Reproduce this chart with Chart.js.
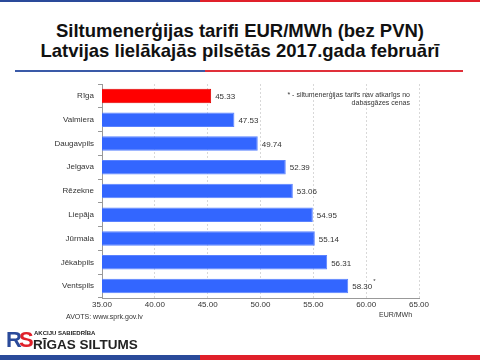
<!DOCTYPE html>
<html>
<head>
<meta charset="utf-8">
<script src="https://cdn.jsdelivr.net/npm/chart.js@4"></script>
<style>
  html, body { margin: 0; padding: 0; background: #fff; }
  #wrap { position: relative; width: 480px; height: 360px; overflow: hidden; font-family: "Liberation Sans", Arial, sans-serif; }
  #c { position: absolute; left: 0; top: 0; }
  .bar2 { position: absolute; height: 2px; }
  .title { position: absolute; left: 0; width: 480px; text-align: center; font-weight: bold; font-size: 18.5px; color: #111; }
  .small { position: absolute; font-size: 7px; color: #333; }
</style>
</head>
<body>
<div id="wrap">
  <div class="bar2" style="left:0;top:0;width:200px;background:#2a4a9a"></div>
  <div class="bar2" style="left:200px;top:0;width:280px;background:#e0202a"></div>
  <div class="title" style="top:20px">Siltumenerģijas tarifi EUR/MWh (bez PVN)</div>
  <div class="title" style="top:40px">Latvijas lielākajās pilsētās 2017.gada februārī</div>
  <div class="bar2" style="left:15px;top:70px;width:190px;background:#3a5aa8"></div>
  <div class="bar2" style="left:205px;top:70px;width:258px;background:#e0303a"></div>
  <canvas id="c" width="480" height="360"></canvas>
  <div class="small" style="left:270px;top:91px;width:140px;text-align:right;line-height:8px;white-space:nowrap">* - siltumenerģijas tarifs nav atkarīgs no<br>dabasgāzes cenas</div>
  <div class="small" style="left:66px;top:313px">AVOTS: www.sprk.gov.lv</div>
  <div class="small" style="left:379px;top:311px">EUR/MWh</div>
  <div style="position:absolute;left:6px;top:329px;font-weight:bold;font-size:22px;line-height:22px;letter-spacing:-3px"><span style="color:#2a4a9a">R</span><span style="color:#e0202a">S</span></div>
  <div style="position:absolute;left:34px;top:330px;font-size:6px;font-weight:bold;color:#222">AKCIJU SABIEDRĪBA</div>
  <div style="position:absolute;left:33px;top:337px;font-size:13.5px;font-weight:bold;color:#222;line-height:15px">RĪGAS SILTUMS</div>
  <div class="bar2" style="left:0;top:355px;height:5px;width:200px;background:#2a4a9a"></div>
  <div class="bar2" style="left:200px;top:355px;height:5px;width:280px;background:#e0202a"></div>
</div>
<script>
// dati no attēla
const pilsetas = ['Rīga', 'Valmiera', 'Daugavpils', 'Jelgava', 'Rēzekne', 'Liepāja', 'Jūrmala', 'Jēkabpils', 'Ventspils'];
const tarifi = [45.33, 47.53, 49.74, 52.39, 53.06, 54.95, 55.14, 56.31, 58.30];
const zvaigznite = [false, false, false, false, false, false, false, false, true];
const asisMin = 35;
const asisMax = 65;
const asisSolis = 5;

const krasas = pilsetas.map(function (p, i) { return i === 0 ? '#ff0000' : '#3366ff'; });
const robezas = pilsetas.map(function (p, i) { return i === 0 ? '#e00000' : '#5a82ff'; });

// vērtību uzraksti pie stabiņiem
const vertibuUzraksti = {
    id: 'vertibuUzraksti',
    afterDatasetsDraw: function (chart) {
        const ctx = chart.ctx;
        const meta = chart.getDatasetMeta(0);
        ctx.save();
        ctx.font = '8px "Liberation Sans", Arial, sans-serif';
        ctx.fillStyle = '#333';
        ctx.textBaseline = 'middle';
        meta.data.forEach(function (bar, i) {
            const txt = tarifi[i].toFixed(2);
            ctx.fillText(txt, bar.x + 4, bar.y + 1);
            if (zvaigznite[i]) {
                const w = ctx.measureText(txt).width;
                ctx.font = '6px "Liberation Sans", Arial, sans-serif';
                ctx.fillText('*', bar.x + 5 + w, bar.y - 5);
                ctx.font = '8px "Liberation Sans", Arial, sans-serif';
            }
        });
        ctx.restore();
    }
};

new Chart(document.getElementById('c'), {
    type: 'bar',
    data: {
        labels: pilsetas,
        datasets: [{
            data: tarifi,
            backgroundColor: krasas,
            borderColor: robezas,
            borderWidth: 1,
            barPercentage: 0.61,
            categoryPercentage: 1
        }]
    },
    options: {
        indexAxis: 'y',
        responsive: false,
        animation: false,
        layout: { padding: { left: 0, top: 84, right: 61, bottom: 42 } },
        scales: {
            x: {
                min: asisMin,
                max: asisMax,
                ticks: {
                    stepSize: asisSolis,
                    color: '#333',
                    font: { size: 8, family: '"Liberation Sans", Arial, sans-serif' },
                    padding: 2,
                    callback: function (v) { return Number(v).toFixed(2); }
                },
                grid: { color: '#d8d8d8', tickLength: 0, drawTicks: false },
                border: { color: '#999', dash: [2, 2] },
                afterFit: function (s) { s.height = 20; }
            },
            y: {
                ticks: {
                    color: '#333',
                    font: { size: 8, family: '"Liberation Sans", Arial, sans-serif' },
                    padding: 4
                },
                grid: { drawOnChartArea: false, offset: true, tickLength: 4, color: '#999' },
                border: { color: '#999' },
                afterFit: function (s) { s.width = 102; }
            }
        },
        plugins: {
            legend: { display: false },
            tooltip: { enabled: false }
        }
    },
    plugins: [vertibuUzraksti]
});
</script>
</body>
</html>
